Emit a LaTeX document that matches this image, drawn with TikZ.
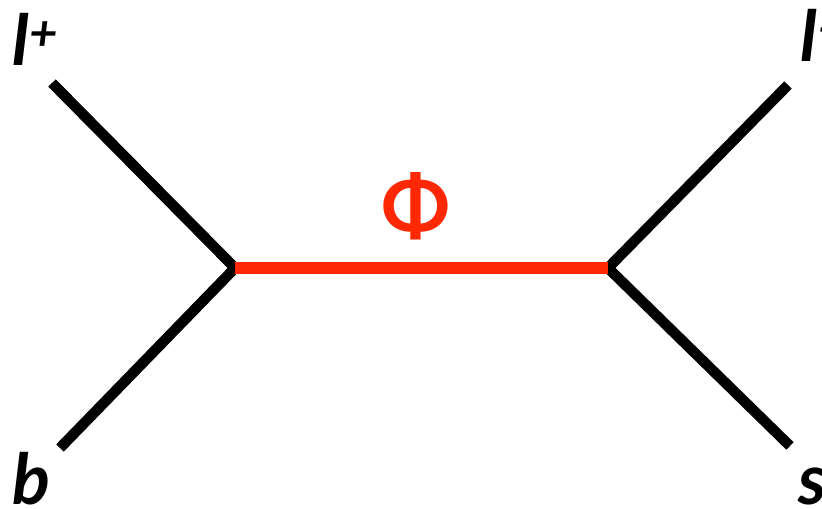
\documentclass[tikz,border=0pt]{standalone}
\usepackage{fontspec}
\setmainfont{Lato}
\definecolor{phired}{RGB}{255,40,5}
\begin{document}
\begin{tikzpicture}[x=0.02cm, y=-0.02cm]
  \tikzset{leg/.style={draw=black, line width=0.21cm},
           prop/.style={draw=phired, line width=0.24cm},
           lab/.style={font=\fontsize{40}{48}\selectfont\bfseries\itshape, inner sep=0pt}}
  \useasboundingbox (0,0) rectangle (822,509);

  % vertices and leg ends
  \coordinate (vl) at (235,268);
  \coordinate (vr) at (608,268);
  \coordinate (lp) at (52,83);
  \coordinate (qb) at (60,448);
  \coordinate (lm) at (788,85);
  \coordinate (qs) at (790,446);

  % external legs
  \draw[leg] (lp) -- (vl) -- (qb);
  \draw[leg] (lm) -- (vr) -- (qs);

  % propagator
  \draw[prop] (vl) -- (vr);
  \node[font=\fontsize{46}{54}\selectfont\bfseries, text=phired, inner sep=0pt, anchor=base] (phi) at (416,236) {Φ};

  % labels
  \node[lab, anchor=base west] (lplus) at (12,66) {l\textsuperscript{+}};
  \node[lab, anchor=base west] (lminus) at (800,62) {l\textsuperscript{−}};
  \node[lab, anchor=base west] (b) at (12,505) {b};
  \node[lab, anchor=base west] (s) at (798,505) {s};
\end{tikzpicture}
\end{document}
